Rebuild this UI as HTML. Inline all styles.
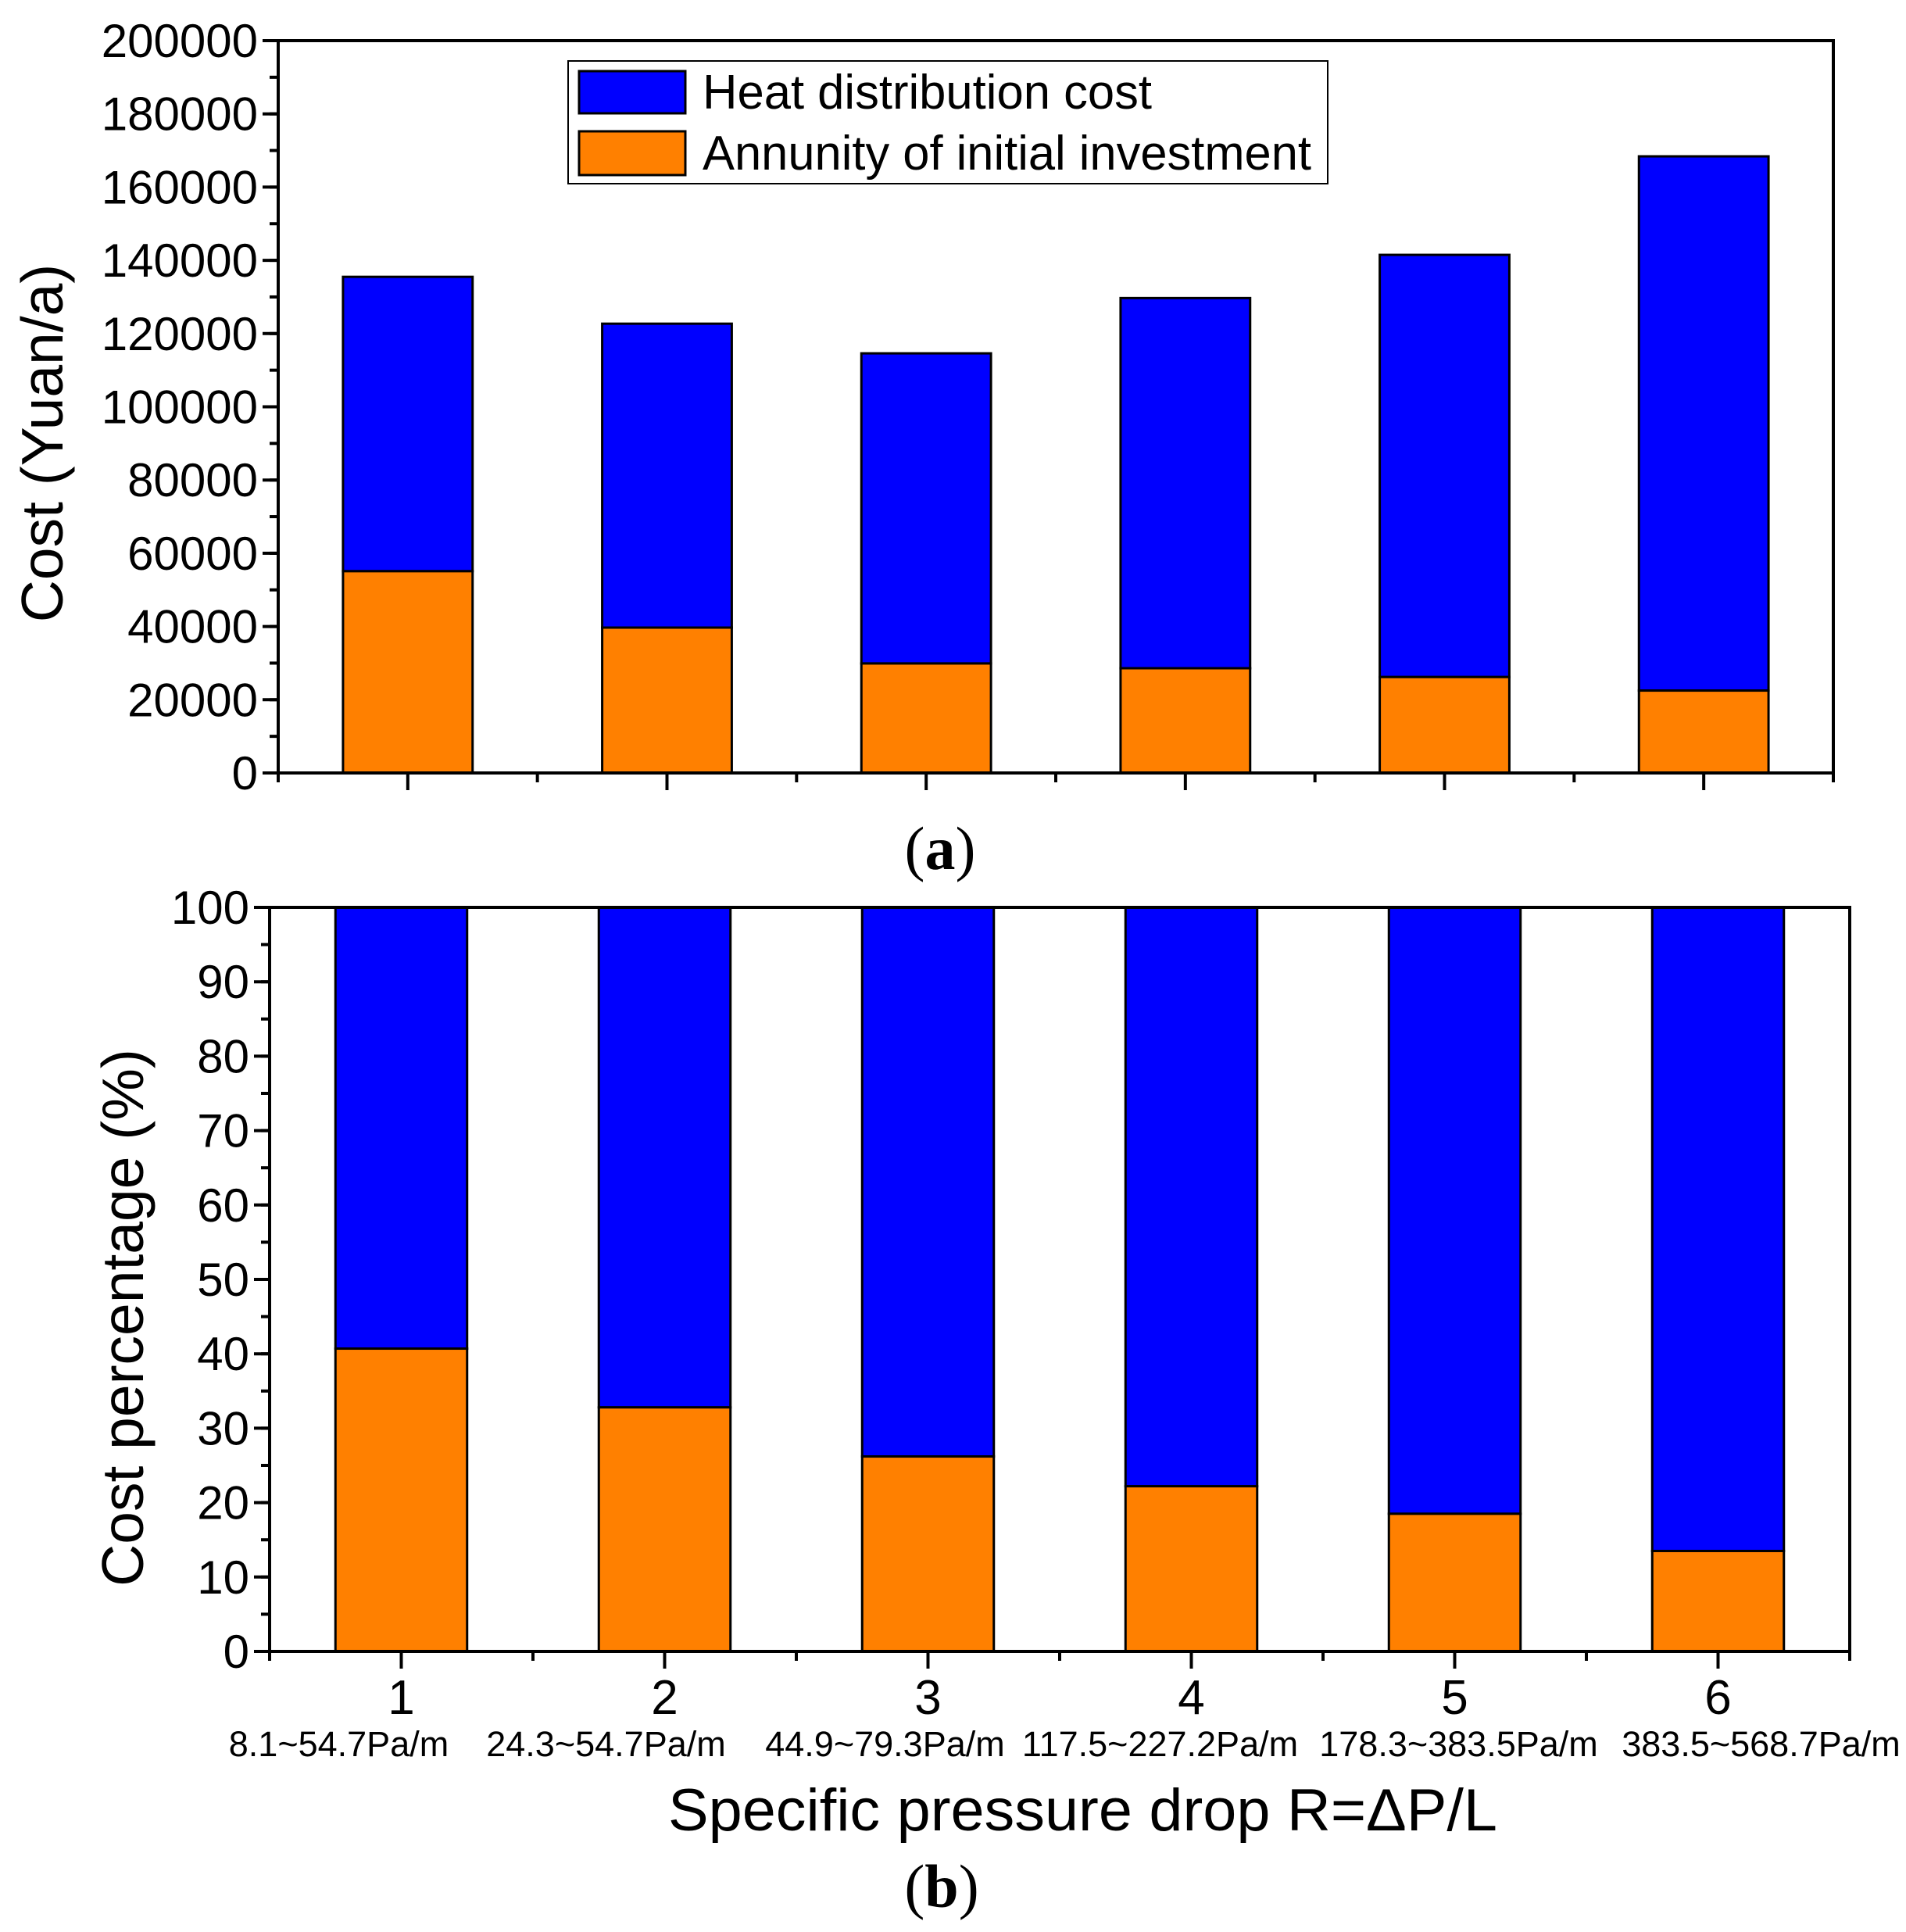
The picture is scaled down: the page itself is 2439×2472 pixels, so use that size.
<!DOCTYPE html>
<html><head><meta charset="utf-8"><style>
html,body{margin:0;padding:0;background:#fff}
svg{display:block}
text{font-family:"Liberation Sans",Arial,sans-serif;fill:#000}
</style></head><body>
<svg id="chart" width="2439" height="2472" viewBox="0 0 2439 2472" xmlns="http://www.w3.org/2000/svg">
<g id="topg"></g>
<g id="botg"></g>
</svg>
<script>
const categories = [1, 2, 3, 4, 5, 6];
const rangeLabels = ["8.1~54.7Pa/m","24.3~54.7Pa/m","44.9~79.3Pa/m","117.5~227.2Pa/m","178.3~383.5Pa/m","383.5~568.7Pa/m"];
const totalCost = [135500, 122700, 114600, 129700, 141500, 168400];
const annuityCost = [55100, 39700, 29900, 28600, 26200, 22500];
const annuityPct = [40.7, 32.8, 26.2, 22.2, 18.5, 13.5];
const topTicks = [0,20000,40000,60000,80000,100000,120000,140000,160000,180000,200000];
const botTicks = [0,10,20,30,40,50,60,70,80,90,100];
// layout: horizontal offsets of range labels relative to tick centre (px)
const rangeLabelShift = [-80, -75, -55, -40, 5, 55];

const NS="http://www.w3.org/2000/svg";
function mk(parent, tag, attrs){const e=document.createElementNS(NS,tag);for(const k in attrs)e.setAttribute(k,attrs[k]);parent.appendChild(e);return e;}
const BLUE="#0000ff", ORANGE="#ff8000";

function panel(g, L, R, T, B, ymax, ticks, minorStep, stackTop, stackBot, isPct){
  const n=categories.length, sp=(R-L)/n;
  const xS=i=>L+sp*(i+0.5);
  const yS=v=>B-(v/ymax)*(B-T);
  const bw=sp*0.5;
  for(let i=0;i<n;i++){
    const barTop = isPct?100:stackTop[i];
    const b1=mk(g,'rect',{x:xS(i)-bw/2,y:yS(barTop),width:bw,height:yS(stackBot[i])-yS(barTop),fill:BLUE,stroke:'#000','stroke-width':3});
    
    
    const b2=mk(g,'rect',{x:xS(i)-bw/2,y:yS(stackBot[i]),width:bw,height:B-yS(stackBot[i]),fill:ORANGE,stroke:'#000','stroke-width':3});
    
    
  }
  const fr=mk(g,'rect',{x:L,y:T,width:R-L,height:B-T,fill:'none',stroke:'#000','stroke-width':4});
  
  
  for(let v=0; v<=ymax+1e-9; v+=minorStep){
    const y=yS(v);
    mk(g,'line',{x1:L-11,x2:L,y1:y,y2:y,stroke:'#000','stroke-width':4});
  }
  ticks.forEach(v=>{
    const y=yS(v);
    mk(g,'line',{x1:L-20,x2:L,y1:y,y2:y,stroke:'#000','stroke-width':4});
    const t=mk(g,'text',{x:L-26,y:y+21,'text-anchor':'end','font-size':60});
    t.textContent=v;
    
    
  });
  for(let i=0;i<n;i++){
    const x=xS(i);
    mk(g,'line',{x1:x,x2:x,y1:B,y2:B+22,stroke:'#000','stroke-width':4});
  }
  for(let i=0;i<=n;i++){
    const x=L+sp*i;
    mk(g,'line',{x1:x,x2:x,y1:B,y2:B+12,stroke:'#000','stroke-width':4});
  }
  return xS;
}

const topG=document.getElementById('topg');
panel(topG,356,2346,52,989,200000,topTicks,10000,totalCost,annuityCost,false);
const botG=document.getElementById('botg');
const xB=panel(botG,345,2367,1161,2113,100,botTicks,5,null,annuityPct,true);

categories.forEach((c,i)=>{
  const t=mk(botG,'text',{x:xB(i),y:2193,'text-anchor':'middle','font-size':62});
  t.textContent=c;
  
  
  const s=mk(botG,'text',{x:xB(i)+rangeLabelShift[i],y:2247,'text-anchor':'middle','font-size':45});
  s.textContent=rangeLabels[i];
  
  
});

const lg=mk(topG,'g',{});


mk(lg,'rect',{x:727,y:78,width:972,height:157,fill:'#fff',stroke:'#000','stroke-width':2});
mk(lg,'rect',{x:741,y:91,width:136,height:54,fill:BLUE,stroke:'#000','stroke-width':3});
mk(lg,'rect',{x:741,y:168,width:136,height:56,fill:ORANGE,stroke:'#000','stroke-width':3});
const l1=mk(lg,'text',{x:899,y:139,'font-size':62,textLength:575,lengthAdjust:'spacingAndGlyphs'});
l1.textContent='Heat distribution cost';


const l2=mk(lg,'text',{x:899,y:217,'font-size':62,textLength:779,lengthAdjust:'spacingAndGlyphs'});
l2.textContent='Annunity of initial investment';



const yt1=mk(topG,'text',{x:0,y:0,'text-anchor':'middle','font-size':75,transform:'translate(80,567) rotate(-90)'});
yt1.textContent='Cost (Yuan/a)';


const yt2=mk(botG,'text',{x:0,y:0,'text-anchor':'middle','font-size':75,transform:'translate(183,1686) rotate(-90)'});
yt2.textContent='Cost percentage (%)';


const xt=mk(botG,'text',{x:855,y:2342,'font-size':76,textLength:1061,lengthAdjust:'spacingAndGlyphs'});
xt.textContent='Specific pressure drop R=\u0394P/L';



const pa=mk(topG,'text',{x:1203,y:1112,'text-anchor':'middle','font-size':78,style:'font-family:"Liberation Serif",serif'});
pa.textContent='(';
const paB=mk(pa,'tspan',{'font-weight':'bold'}); paB.textContent='a';
const paE=mk(pa,'tspan',{}); paE.textContent=')';


const pb=mk(botG,'text',{x:1205,y:2440,'text-anchor':'middle','font-size':78,style:'font-family:"Liberation Serif",serif'});
pb.textContent='(';
const pbB=mk(pb,'tspan',{'font-weight':'bold'}); pbB.textContent='b';
const pbE=mk(pb,'tspan',{}); pbE.textContent=')';


</script>
</body></html>
